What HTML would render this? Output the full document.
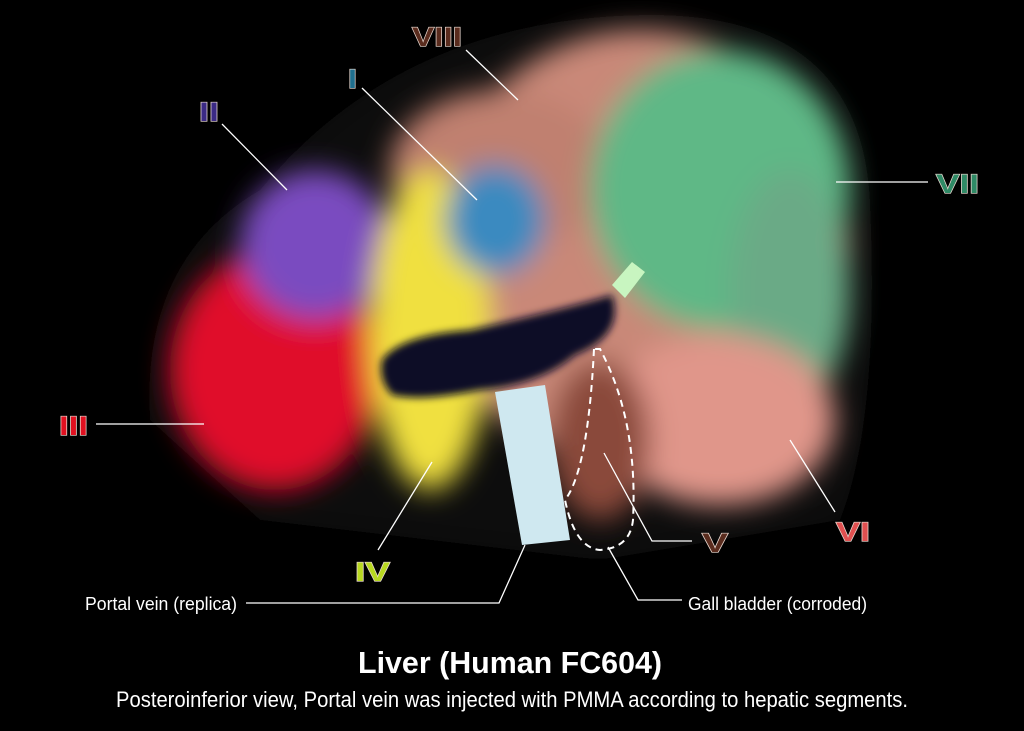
<!DOCTYPE html>
<html><head><meta charset="utf-8"><style>
html,body{margin:0;padding:0;background:#000;width:1024px;height:731px;overflow:hidden}
svg{display:block}
.lbl{font-family:"Liberation Sans",sans-serif;font-weight:bold;font-size:27px;stroke:#e8d8d0;stroke-width:1.2px;paint-order:stroke}
.cap{font-family:"Liberation Sans Narrow","Liberation Sans",sans-serif;fill:#fff}
</style></head><body>
<svg width="1024" height="731" viewBox="0 0 1024 731" xmlns="http://www.w3.org/2000/svg">
<defs>
<filter id="b" x="-30%" y="-30%" width="160%" height="160%"><feGaussianBlur stdDeviation="14"/></filter>
<filter id="b2" x="-30%" y="-30%" width="160%" height="160%"><feGaussianBlur stdDeviation="4"/></filter>
</defs>
<rect width="1024" height="731" fill="#000"/>
<path d="M150 420 Q140 260 260 190 Q400 20 640 15 Q860 10 870 200 Q880 420 840 520 L600 560 L260 520 Z" fill="#080808" filter="url(#b)"/>
<g filter="url(#b)">
<ellipse cx="640" cy="250" rx="210" ry="220" fill="#c98878"/>
<ellipse cx="500" cy="170" rx="110" ry="80" fill="#c08070"/>
<ellipse cx="720" cy="190" rx="130" ry="140" fill="#5fb886"/>
<ellipse cx="790" cy="290" rx="60" ry="120" fill="#6aaa86"/>
<ellipse cx="720" cy="420" rx="115" ry="85" fill="#e0968a"/>
<ellipse cx="600" cy="440" rx="50" ry="80" fill="#8a4a3a"/>
<ellipse cx="275" cy="370" rx="105" ry="120" fill="#e0102a"/>
<ellipse cx="315" cy="245" rx="75" ry="75" fill="#7a4cc0"/>
<ellipse cx="430" cy="330" rx="60" ry="160" fill="#f0e040"/>
<ellipse cx="495" cy="220" rx="50" ry="55" fill="#3a8ac0"/>
</g>
<g filter="url(#b2)">
<path d="M382 360 Q400 335 470 330 Q560 310 612 295 Q625 335 575 355 Q540 385 480 390 Q420 402 392 395 Q378 380 382 360Z" fill="#0a0f25"/>
</g>
<path d="M495 392 L545 385 L570 540 L522 545 Z" fill="#cfe8f0"/>
<path d="M612 285 L632 262 L645 272 L625 298Z" fill="#c8f5c0"/>
<path d="M594 349 Q588 470 565 500 Q575 548 600 550 Q630 548 633 520 Q638 420 600 349Z" fill="none" stroke="#fff" stroke-width="2" stroke-dasharray="7,5"/>
<g stroke="#fff" stroke-width="1.3" fill="none">
<line x1="466" y1="50" x2="518" y2="100"/>
<line x1="362" y1="88" x2="477" y2="200"/>
<line x1="222" y1="124" x2="287" y2="190"/>
<line x1="836" y1="182" x2="928" y2="182"/>
<line x1="96" y1="424" x2="204" y2="424"/>
<polyline points="378,550 432,462"/>
<polyline points="604,453 652,541 692,541"/>
<line x1="790" y1="440" x2="835" y2="512"/>
<polyline points="246,603 499,603 525,545"/>
<polyline points="608,547 638,600 682,600"/>
</g>
<text class="lbl" x="412" y="46" fill="#5a2c1e" textLength="50" lengthAdjust="spacingAndGlyphs">VIII</text>
<text class="lbl" x="348" y="88" fill="#1f6f8e" textLength="9" lengthAdjust="spacingAndGlyphs">I</text>
<text class="lbl" x="199" y="121" fill="#3b2a85" textLength="20" lengthAdjust="spacingAndGlyphs">II</text>
<text class="lbl" x="936" y="193" fill="#2f8a66" textLength="43" lengthAdjust="spacingAndGlyphs">VII</text>
<text class="lbl" x="59" y="435" fill="#e01020" textLength="29" lengthAdjust="spacingAndGlyphs">III</text>
<text class="lbl" x="355" y="581" fill="#b8d820" textLength="35" lengthAdjust="spacingAndGlyphs">IV</text>
<text class="lbl" x="702" y="552" fill="#5a2c1e" textLength="26" lengthAdjust="spacingAndGlyphs">V</text>
<text class="lbl" x="836" y="541" fill="#e05050" textLength="34" lengthAdjust="spacingAndGlyphs">VI</text>
<text class="cap" x="85" y="610" font-size="18" textLength="152" lengthAdjust="spacingAndGlyphs">Portal vein (replica)</text>
<text class="cap" x="688" y="610" font-size="18" textLength="179" lengthAdjust="spacingAndGlyphs">Gall bladder (corroded)</text>
<text class="cap" x="358" y="673" font-size="31" font-weight="bold" textLength="304" lengthAdjust="spacingAndGlyphs">Liver (Human FC604)</text>
<text class="cap" x="116" y="707" font-size="22" textLength="792" lengthAdjust="spacingAndGlyphs">Posteroinferior view, Portal vein was injected with PMMA according to hepatic segments.</text>
</svg>
</body></html>
